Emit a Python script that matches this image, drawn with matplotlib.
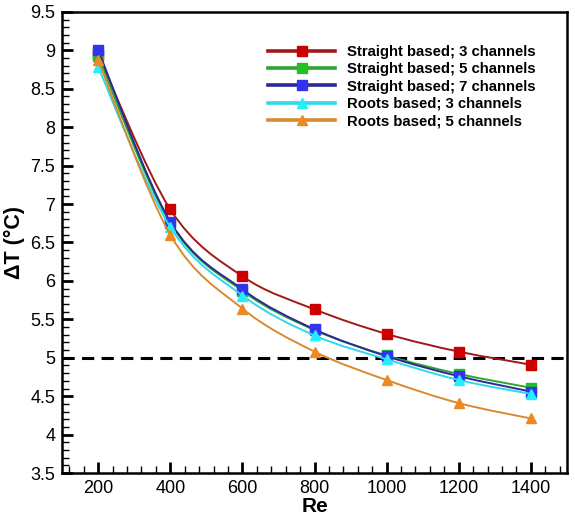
import matplotlib
matplotlib.use("Agg")
import matplotlib.pyplot as plt
import numpy as np
from matplotlib.path import Path
from matplotlib.patches import PathPatch
from matplotlib.lines import Line2D
from matplotlib.ticker import MultipleLocator

plt.rcParams['font.family'] = ['Liberation Sans', 'DejaVu Sans']

re_vals = [200, 400, 600, 800, 1000, 1200, 1400]

straight_3 = [8.95, 6.93, 6.06, 5.63, 5.31, 5.08, 4.91]
straight_5 = [8.92, 6.75, 5.87, 5.36, 5.03, 4.79, 4.61]
straight_7 = [9.00, 6.77, 5.89, 5.37, 5.02, 4.76, 4.56]
roots_3 = [8.78, 6.70, 5.81, 5.29, 4.98, 4.71, 4.53]
roots_5 = [8.87, 6.60, 5.64, 5.08, 4.71, 4.41, 4.21]

labels = ["Straight based; 3 channels", "Straight based; 5 channels",
          "Straight based; 7 channels", "Roots based; 3 channels",
          "Roots based; 5 channels"]
series = [straight_3, straight_5, straight_7, roots_3, roots_5]
line_cols = ['#A01818', '#2EA52E', '#2A2A9A', '#30D8EA', '#D88A30']
mark_cols = ['#CC0000', '#22C022', '#3333EE', '#22EEFF', '#EE8822']
markers = ['s', 's', 's', '^', '^']


def smooth_path(x, y):
    # catmull-rom through the points, drawn as cubic bezier segments
    p = np.column_stack([x, y]).astype(float)
    ext = np.vstack([p[0], p, p[-1]])
    verts = [p[0]]
    codes = [Path.MOVETO]
    for i in range(len(p) - 1):
        p0, p1, p2, p3 = ext[i], ext[i + 1], ext[i + 2], ext[i + 3]
        verts += [p1 + (p2 - p0) / 6, p2 - (p3 - p1) / 6, p2]
        codes += [Path.CURVE4] * 3
    return Path(verts, codes)


fig = plt.figure(figsize=(5.75, 5.17), dpi=100)
ax = fig.add_axes([0.108, 0.085, 0.878, 0.892])

ax.axhline(5, color='black', lw=2.2, dashes=(4, 2.4), zorder=1)

handles = []
for k, (vals, lab) in enumerate(zip(series, labels)):
    patch = PathPatch(smooth_path(re_vals, vals), fill=False,
                      edgecolor=line_cols[k], lw=1.4, zorder=2 + k)
    ax.add_patch(patch)
    ax.plot(re_vals, vals, ls='none', marker=markers[k], ms=7.2,
            mfc=mark_cols[k], mec=mark_cols[k], zorder=2.5 + k)
    handles.append(Line2D([], [], color=line_cols[k], lw=2.6,
                          marker=markers[k], ms=7, mfc=mark_cols[k],
                          mec=mark_cols[k]))

ax.set_xlim(100, 1500)
ax.set_ylim(3.5, 9.5)
ax.xaxis.set_major_locator(MultipleLocator(200))
ax.xaxis.set_minor_locator(MultipleLocator(40))
ax.yaxis.set_major_locator(MultipleLocator(0.5))
ax.yaxis.set_minor_locator(MultipleLocator(0.1))
ax.set_yticks(np.arange(3.5, 9.51, 0.5))
ax.set_yticklabels([f"{v:g}" for v in np.arange(3.5, 9.51, 0.5)])

ax.tick_params(which='both', direction='in', top=False, right=False,
               labelsize=13, colors='black')
ax.tick_params(which='major', length=8, width=2, pad=5)
ax.tick_params(which='minor', length=5, width=1)
for s in ax.spines.values():
    s.set_linewidth(1.8)

ax.set_xlabel("Re", fontsize=15, fontweight='bold', labelpad=0)
ax.set_ylabel("ΔT (°C)", fontsize=15.5, fontweight='bold', labelpad=4)

ax.legend(handles, labels, loc='upper left', bbox_to_anchor=(0.408, 0.928),
          frameon=False, prop={'size': 10.7, 'weight': 'bold'},
          handlelength=4.5, handletextpad=0.8, labelspacing=0.22,
          borderpad=0, borderaxespad=0)

fig.savefig("out.png", dpi=100)
